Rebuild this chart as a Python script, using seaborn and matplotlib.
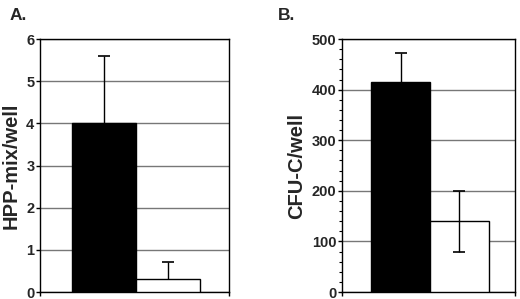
import matplotlib
matplotlib.use("Agg")
import matplotlib.pyplot as plt
import seaborn as sns
from matplotlib.ticker import MultipleLocator

groups = ["ctrl", "treated"]
hpp_mean = [4.0, 0.3]
hpp_err_up = [1.6, 0.4]
hpp_err_down = [0.0, 0.0]
cfu_mean = [415, 140]
cfu_err_up = [57, 60]
cfu_err_down = [57, 60]
bar_colors = ["black", "white"]

sns.set_style("white")
plt.rcParams['font.family'] = ['Liberation Sans', 'DejaVu Sans']
plt.rcParams['font.weight'] = 'bold'

fig = plt.figure(figsize=(5.2, 2.99), dpi=100)
axA = fig.add_axes([0.0769, 0.0234, 0.3635, 0.846])
axB = fig.add_axes([0.6577, 0.0234, 0.3327, 0.846])


def panel(ax, mean, up, down, ylim, step, ylabel, minor=None, one_sided=False):
    sns.barplot(x=groups, y=mean, hue=groups, palette=bar_colors, legend=False,
                edgecolor="black", linewidth=1, width=1.0, ax=ax, zorder=3)
    centers = [p.get_x() + p.get_width() / 2 for p in ax.patches]
    eb = ax.errorbar(centers, mean, yerr=[down, up], fmt="none", ecolor="black",
                     elinewidth=1, capsize=4, capthick=1.2, zorder=4)
    if one_sided:
        # upper half only, drop the lower caps
        eb[1][0].set_visible(False)
    ax.set_ylim(*ylim)
    ax.set_xlim(-1.0, 1.95)
    ax.yaxis.set_major_locator(MultipleLocator(step))
    if minor:
        ax.yaxis.set_minor_locator(MultipleLocator(minor))
    ax.grid(axis="y", color="#777777", linewidth=1, zorder=0)
    ax.set_axisbelow(True)
    for s in ax.spines.values():
        s.set_visible(True)
        s.set_color("black")
        s.set_linewidth(1)
    ax.set_xticks(ax.get_xlim())
    ax.set_xticklabels([])
    ax.set_xlabel("")
    ax.tick_params(axis="both", which="major", direction="out", length=3,
                   width=1, color="black", left=True, bottom=True, pad=1)
    ax.tick_params(axis="y", which="minor", direction="out", length=2,
                   width=0.8, color="black", left=True)
    for t in ax.get_yticklabels():
        t.set_fontsize(10.5)
        t.set_fontweight("bold")
    ax.set_ylabel(ylabel, fontsize=14.5, fontweight="bold", labelpad=4)


panel(axA, hpp_mean, hpp_err_up, hpp_err_down, (0, 6), 1, "HPP-mix/well",
      one_sided=True)
panel(axB, cfu_mean, cfu_err_up, cfu_err_down, (0, 500), 100, "CFU-C/well", minor=20)

fig.text(0.019, 0.933, "A.", fontsize=12.5, fontweight="bold", va="baseline")
fig.text(0.535, 0.933, "B.", fontsize=12.5, fontweight="bold", va="baseline")

fig.savefig("out.png", dpi=100, facecolor="white")
